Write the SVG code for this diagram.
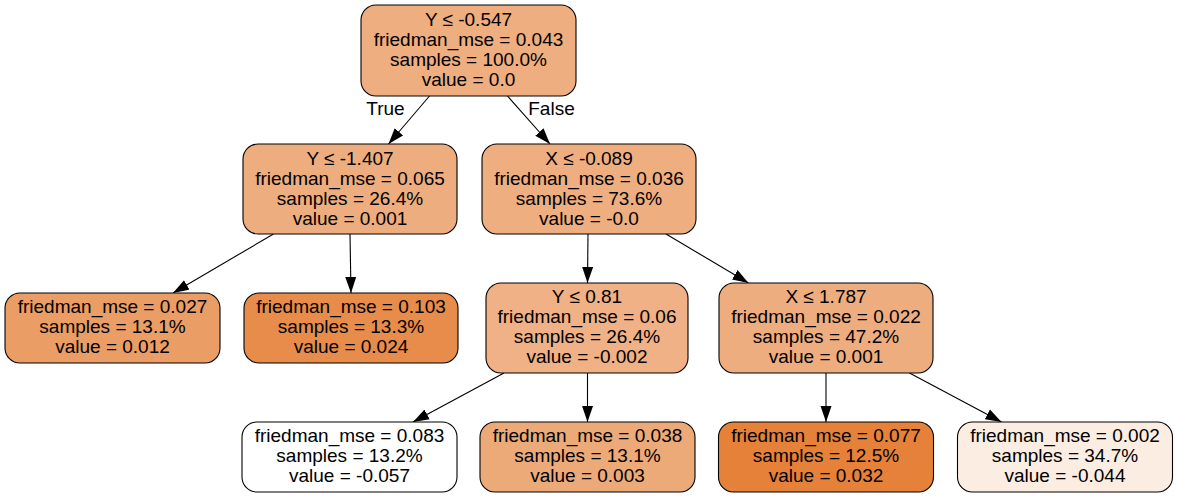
<svg xmlns="http://www.w3.org/2000/svg" width="1177" height="497" viewBox="0 0 1177 497">
<style>
.n rect{stroke:#000;stroke-width:1.1}
text{font-family:"Liberation Sans",Arial,sans-serif;font-size:19px;fill:#000;text-anchor:middle}
.e line{stroke:#000;stroke-width:1.1;marker-end:url(#ah)}
</style>
<defs>
<marker id="ah" markerUnits="userSpaceOnUse" markerWidth="17" markerHeight="12" refX="16" refY="6" orient="auto">
<path d="M0,0.5 L16,6 L0,11.5 z" fill="#000"/>
</marker>
</defs>
<rect width="1177" height="497" fill="#fff"/>
<g id="edges" class="e">
<line x1="429.5" y1="96" x2="388.5" y2="144"/>
<line x1="507.5" y1="96" x2="550" y2="144"/>
<line x1="273.5" y1="234" x2="173" y2="293"/>
<line x1="350" y1="234" x2="351" y2="293"/>
<line x1="588" y1="234" x2="587.5" y2="283"/>
<line x1="666" y1="234" x2="748.5" y2="283"/>
<line x1="504" y1="373" x2="413" y2="422"/>
<line x1="587.5" y1="373" x2="587.5" y2="422"/>
<line x1="826" y1="373" x2="826" y2="422"/>
<line x1="909.5" y1="373" x2="1001.5" y2="422"/>
</g>
<g id="edge-labels">
<text x="385.5" y="115">True</text>
<text x="551.5" y="115">False</text>
</g>
<g id="node0" class="n">
<rect x="361" y="5" width="215" height="91" rx="15" fill="#eeae80"/>
<text x="468.5" y="25.5">Y ≤ -0.547</text>
<text x="468.5" y="45.5">friedman_mse = 0.043</text>
<text x="468.5" y="65.5">samples = 100.0%</text>
<text x="468.5" y="85.5">value = 0.0</text>
</g>
<g id="node1" class="n">
<rect x="243" y="144" width="214" height="90" rx="15" fill="#eead7f"/>
<text x="350" y="164.5">Y ≤ -1.407</text>
<text x="350" y="184.5">friedman_mse = 0.065</text>
<text x="350" y="204.5">samples = 26.4%</text>
<text x="350" y="224.5">value = 0.001</text>
</g>
<g id="node2" class="n">
<rect x="5" y="293" width="215" height="70" rx="15" fill="#eb9d66"/>
<text x="112.5" y="312.5">friedman_mse = 0.027</text>
<text x="112.5" y="332.5">samples = 13.1%</text>
<text x="112.5" y="352.5">value = 0.012</text>
</g>
<g id="node3" class="n">
<rect x="244" y="293" width="214" height="70" rx="15" fill="#e78c4b"/>
<text x="351" y="312.5">friedman_mse = 0.103</text>
<text x="351" y="332.5">samples = 13.3%</text>
<text x="351" y="352.5">value = 0.024</text>
</g>
<g id="node4" class="n">
<rect x="482" y="144" width="214" height="90" rx="15" fill="#eeae80"/>
<text x="589" y="164.5">X ≤ -0.089</text>
<text x="589" y="184.5">friedman_mse = 0.036</text>
<text x="589" y="204.5">samples = 73.6%</text>
<text x="589" y="224.5">value = -0.0</text>
</g>
<g id="node5" class="n">
<rect x="486" y="283" width="202" height="90" rx="15" fill="#efb185"/>
<text x="587" y="303">Y ≤ 0.81</text>
<text x="587" y="323">friedman_mse = 0.06</text>
<text x="587" y="343">samples = 26.4%</text>
<text x="587" y="363">value = -0.002</text>
</g>
<g id="node6" class="n">
<rect x="719" y="283" width="214" height="90" rx="15" fill="#eead7f"/>
<text x="826" y="303">X ≤ 1.787</text>
<text x="826" y="323">friedman_mse = 0.022</text>
<text x="826" y="343">samples = 47.2%</text>
<text x="826" y="363">value = 0.001</text>
</g>
<g id="node7" class="n">
<rect x="242" y="422" width="215" height="70" rx="15" fill="#ffffff"/>
<text x="349.5" y="441.5">friedman_mse = 0.083</text>
<text x="349.5" y="461.5">samples = 13.2%</text>
<text x="349.5" y="481.5">value = -0.057</text>
</g>
<g id="node8" class="n">
<rect x="480" y="422" width="215" height="70" rx="15" fill="#edaa79"/>
<text x="587.5" y="441.5">friedman_mse = 0.038</text>
<text x="587.5" y="461.5">samples = 13.1%</text>
<text x="587.5" y="481.5">value = 0.003</text>
</g>
<g id="node9" class="n">
<rect x="718.5" y="422" width="215" height="70" rx="15" fill="#e58139"/>
<text x="826" y="441.5">friedman_mse = 0.077</text>
<text x="826" y="461.5">samples = 12.5%</text>
<text x="826" y="481.5">value = 0.032</text>
</g>
<g id="node10" class="n">
<rect x="957.5" y="422" width="215" height="70" rx="15" fill="#fbede2"/>
<text x="1065" y="441.5">friedman_mse = 0.002</text>
<text x="1065" y="461.5">samples = 34.7%</text>
<text x="1065" y="481.5">value = -0.044</text>
</g>
</svg>
